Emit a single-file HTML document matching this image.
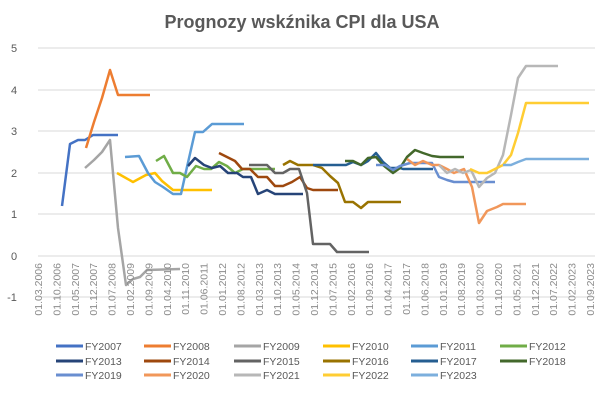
<!DOCTYPE html>
<html><head><meta charset="utf-8"><style>body{margin:0;background:#fff}svg{display:block}</style></head><body>
<svg width="605" height="402" xmlns="http://www.w3.org/2000/svg" font-family="Liberation Sans, sans-serif">
<rect width="605" height="402" fill="#fff"/>
<text x="302" y="28" text-anchor="middle" font-size="18" font-weight="bold" fill="#595959">Prognozy wskźnika CPI dla USA</text>
<g stroke="#d9d9d9" stroke-width="1">
<line x1="38" x2="595" y1="48" y2="48"/><line x1="38" x2="595" y1="90" y2="90"/><line x1="38" x2="595" y1="131" y2="131"/><line x1="38" x2="595" y1="173" y2="173"/><line x1="38" x2="595" y1="214" y2="214"/><line x1="38" x2="595" y1="256" y2="256"/><line x1="38" x2="595" y1="297" y2="297"/>
</g>
<g font-size="11" fill="#595959" text-anchor="middle">
<text x="14" y="52">5</text><text x="14" y="94">4</text><text x="14" y="135">3</text><text x="14" y="177">2</text><text x="14" y="218">1</text><text x="14" y="260">0</text><text x="12" y="301">-1</text>
</g>
<g fill="none" stroke-width="2.5" stroke-linejoin="round">
<polyline stroke="#4472c4" points="62,206 70,144 78,140 85,140 93,135 118,135"/>
<polyline stroke="#ed7d31" points="86,148 94,122 102,98 110,70 118,95 150,95"/>
<polyline stroke="#a5a5a5" points="85,168 94,160 102,152 110,140 118,228 126,285 133,279 140,277 147,270 180,269"/>
<polyline stroke="#ffc000" points="117,173 133,182 146,175 155,173 162,181 173,190 212,190"/>
<polyline stroke="#5b9bd5" points="125,157 139,156 148,173 155,182 163,187 173,194 181,194 187,167 195,132 203,132 212,124 244,124"/>
<polyline stroke="#70ad47" points="156,161 164,156 173,173 180,173 187,177 196,166 204,169 211,169 219,162 227,166 235,173 243,169 275,169"/>
<polyline stroke="#264478" points="188,166 195,158 204,165 212,168 220,166 228,173 237,173 243,177 251,177 258,194 267,190 275,194 303,194"/>
<polyline stroke="#9e480e" points="219,153 227,157 235,161 242,169 250,169 258,177 267,177 275,186 283,186 292,182 300,177 307,188 313,190 338,190"/>
<polyline stroke="#636363" points="249,165 267,165 275,173 283,173 290,169 299,169 307,193 313,244 330,244 337,252 369,252"/>
<polyline stroke="#997300" points="283,165 290,161 298,165 313,165 322,168 330,176 338,183 345,202 353,202 361,208 368,202 401,202"/>
<polyline stroke="#255e91" points="313,165 346,165 353,162 361,165 368,161 376,153 383,162 390,168 400,168 403,169 433,169"/>
<polyline stroke="#43682b" points="345,161 353,161 361,165 368,158 376,157 383,165 393,173 400,168 407,157 415,150 423,153 432,156 440,157 464,157"/>
<polyline stroke="#698ed0" points="376,165 385,165 393,170 400,166 410,163 432,163 439,177 447,180 454,182 495,182"/>
<polyline stroke="#f1975a" points="407,159 415,165 423,161 432,165 439,165 447,169 454,173 464,169 472,187 479,223 487,211 497,207 503,204 526,204"/>
<polyline stroke="#b7b7b7" points="439,165 447,173 455,169 463,173 471,170 479,187 487,178 495,173 503,155 511,115 518,78 526,66 558,66"/>
<polyline stroke="#ffcd33" points="470,169 479,173 487,173 495,169 503,165 511,155 518,133 526,103 589,103"/>
<polyline stroke="#7cafdd" points="503,165 511,165 518,162 526,159 589,159"/>
</g>
<g font-size="10.5" fill="#595959">
<g stroke-width="3">
<line x1="56" x2="83" y1="346" y2="346" stroke="#4472c4"/><line x1="144" x2="171" y1="346" y2="346" stroke="#ed7d31"/><line x1="234" x2="261" y1="346" y2="346" stroke="#a5a5a5"/><line x1="323" x2="350" y1="346" y2="346" stroke="#ffc000"/><line x1="411" x2="438" y1="346" y2="346" stroke="#5b9bd5"/><line x1="500" x2="527" y1="346" y2="346" stroke="#70ad47"/>
<line x1="56" x2="83" y1="361" y2="361" stroke="#264478"/><line x1="144" x2="171" y1="361" y2="361" stroke="#9e480e"/><line x1="234" x2="261" y1="361" y2="361" stroke="#636363"/><line x1="323" x2="350" y1="361" y2="361" stroke="#997300"/><line x1="411" x2="438" y1="361" y2="361" stroke="#255e91"/><line x1="500" x2="527" y1="361" y2="361" stroke="#43682b"/>
<line x1="56" x2="83" y1="375" y2="375" stroke="#698ed0"/><line x1="144" x2="171" y1="375" y2="375" stroke="#f1975a"/><line x1="234" x2="261" y1="375" y2="375" stroke="#b7b7b7"/><line x1="323" x2="350" y1="375" y2="375" stroke="#ffcd33"/><line x1="411" x2="438" y1="375" y2="375" stroke="#7cafdd"/>
</g>
<text x="85" y="350">FY2007</text><text x="173" y="350">FY2008</text><text x="263" y="350">FY2009</text><text x="352" y="350">FY2010</text><text x="440" y="350">FY2011</text><text x="529" y="350">FY2012</text>
<text x="85" y="365">FY2013</text><text x="173" y="365">FY2014</text><text x="263" y="365">FY2015</text><text x="352" y="365">FY2016</text><text x="440" y="365">FY2017</text><text x="529" y="365">FY2018</text>
<text x="85" y="379">FY2019</text><text x="173" y="379">FY2020</text><text x="263" y="379">FY2021</text><text x="352" y="379">FY2022</text><text x="440" y="379">FY2023</text>
</g>
<g font-size="10.5" fill="#8c8c8c" text-anchor="end">
<text transform="translate(42,263) rotate(-90)">01.03.2006</text>
<text transform="translate(60.4,263) rotate(-90)">01.10.2006</text>
<text transform="translate(78.8,263) rotate(-90)">01.05.2007</text>
<text transform="translate(97.2,263) rotate(-90)">01.12.2007</text>
<text transform="translate(115.6,263) rotate(-90)">01.07.2008</text>
<text transform="translate(134,263) rotate(-90)">01.02.2009</text>
<text transform="translate(152.4,263) rotate(-90)">01.09.2009</text>
<text transform="translate(170.8,263) rotate(-90)">01.04.2010</text>
<text transform="translate(189.2,263) rotate(-90)">01.11.2010</text>
<text transform="translate(207.6,263) rotate(-90)">01.06.2011</text>
<text transform="translate(226,263) rotate(-90)">01.01.2012</text>
<text transform="translate(244.4,263) rotate(-90)">01.08.2012</text>
<text transform="translate(262.8,263) rotate(-90)">01.03.2013</text>
<text transform="translate(281.2,263) rotate(-90)">01.10.2013</text>
<text transform="translate(299.6,263) rotate(-90)">01.05.2014</text>
<text transform="translate(318,263) rotate(-90)">01.12.2014</text>
<text transform="translate(336.4,263) rotate(-90)">01.07.2015</text>
<text transform="translate(354.8,263) rotate(-90)">01.02.2016</text>
<text transform="translate(373.2,263) rotate(-90)">01.09.2016</text>
<text transform="translate(391.6,263) rotate(-90)">01.04.2017</text>
<text transform="translate(410,263) rotate(-90)">01.11.2017</text>
<text transform="translate(428.4,263) rotate(-90)">01.06.2018</text>
<text transform="translate(446.8,263) rotate(-90)">01.01.2019</text>
<text transform="translate(465.2,263) rotate(-90)">01.08.2019</text>
<text transform="translate(483.6,263) rotate(-90)">01.03.2020</text>
<text transform="translate(502,263) rotate(-90)">01.10.2020</text>
<text transform="translate(520.4,263) rotate(-90)">01.05.2021</text>
<text transform="translate(538.8,263) rotate(-90)">01.12.2021</text>
<text transform="translate(557.2,263) rotate(-90)">01.07.2022</text>
<text transform="translate(575.6,263) rotate(-90)">01.02.2023</text>
<text transform="translate(594,263) rotate(-90)">01.09.2023</text>
</g>
</svg>
</body></html>
